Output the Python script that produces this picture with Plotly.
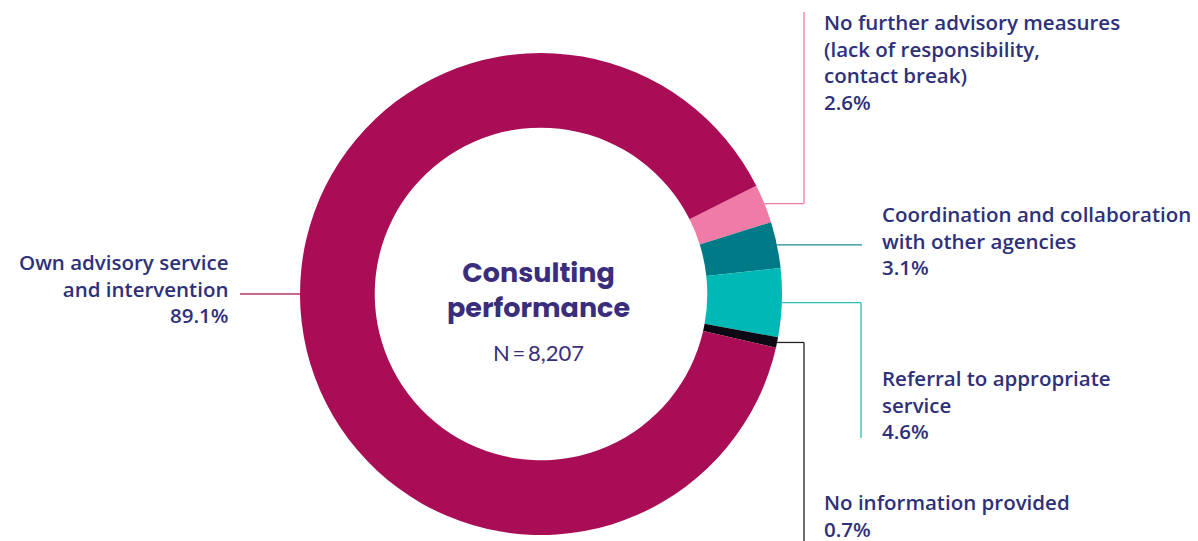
import math
import plotly.graph_objects as go

# ---- data ----
labels = [
    "No further advisory measures<br>(lack of responsibility,<br>contact break)",
    "Coordination and collaboration<br>with other agencies",
    "Referral to appropriate<br>service",
    "No information provided",
    "Own advisory service<br>and intervention",
]
values = [2.6, 3.1, 4.6, 0.7, 89.1]
colors = ["#F07BA7", "#007A86", "#00B8B5", "#0B0A14", "#A80D55"]
center_title = "Consulting<br>performance"
center_n = "N\u2009=\u20098,207"

# ---- layout geometry (page pixels) ----
W, H = 1198, 541
OFF = 8  # page body margin
CX, CY, R = 541, 294, 241
HOLE = 0.69
ROT = 63.3
TXT = "#2E3079"


def px(x):
    return (x - OFF) / W


def py(y):
    return 1 - (y - OFF) / H


fig = go.Figure(go.Pie(
    labels=[l.replace("<br>", " ") for l in labels],
    values=values,
    marker=dict(colors=colors, line=dict(width=0)),
    hole=HOLE,
    sort=False,
    direction="clockwise",
    rotation=ROT,
    textinfo="none",
    hoverinfo="label+percent",
    showlegend=False,
    domain=dict(x=[px(CX - R), px(CX + R)], y=[py(CY + R), py(CY - R)]),
))

# mid angles of slices (degrees clockwise from 12 o'clock)
tot = sum(values)
mids = []
acc = ROT
for v in values:
    a = v / tot * 360
    mids.append(acc + a / 2)
    acc += a


def ring_pt(deg):
    r = math.radians(deg)
    return CX + R * math.sin(r), CY - R * math.cos(r)


shapes = []


def seg(x0, y0, x1, y1, color):
    shapes.append(dict(type="line", xref="paper", yref="paper",
                       x0=px(x0), y0=py(y0), x1=px(x1), y1=py(y1),
                       line=dict(color=color, width=1.3)))


line_cols = ["#F07BA7", "#1A8C95", "#2BBDB9", "#222222", "#B5356F"]
# pink: right then up
x0, y0 = ring_pt(mids[0])
seg(x0, y0, 804, y0, line_cols[0]); seg(804, y0, 804, 12, line_cols[0])
# dark teal: right
x0, y0 = ring_pt(mids[1])
seg(x0, y0, 862, y0, line_cols[1])
# cyan: right then down
x0, y0 = ring_pt(mids[2])
seg(x0, y0, 861, y0, line_cols[2]); seg(861, y0, 861, 438, line_cols[2])
# black: right then down
x0, y0 = ring_pt(mids[3])
seg(x0, y0, 804, y0, line_cols[3]); seg(804, y0, 804, 545, line_cols[3])
# magenta: left at 9 o'clock
x0, y0 = ring_pt(270)
seg(x0, y0, 240, y0, line_cols[4])

lab_font = dict(family="Open Sans", size=20.5, color=TXT, weight=600)
ann = []


def label(text, x, y, anchor="left", align="left"):
    ann.append(dict(text=text, xref="paper", yref="paper", x=px(x), y=py(y),
                    xanchor=anchor, yanchor="top", align=align, showarrow=False,
                    font=lab_font))


def pct(v):
    return f"{v:.1f}%"


label(labels[0] + "<br>" + pct(values[0]), 822, 6)
label(labels[1] + "<br>" + pct(values[1]), 880, 198)
label(labels[2] + "<br>" + pct(values[2]), 880, 362)
label(labels[3] + "<br>" + pct(values[3]), 822, 486)
label(labels[4] + "<br>" + pct(values[4]), 230, 246, anchor="right", align="right")

ann.append(dict(text="<b>" + center_title + "</b>", xref="paper", yref="paper",
                x=px(CX - 3), y=py(290), xanchor="center", yanchor="middle",
                showarrow=False, font=dict(family="Poppins, Montserrat, Inter, sans-serif", size=27,
                                           color="#3A2D7B", weight=800)))
ann.append(dict(text=center_n, xref="paper", yref="paper",
                x=px(CX - 3), y=py(352), xanchor="center", yanchor="middle",
                showarrow=False, font=dict(family="Lato", size=22, color="#3A2D7B")))

fig.update_layout(
    width=W, height=H,
    margin=dict(l=0, r=0, t=0, b=0),
    paper_bgcolor="white", plot_bgcolor="white",
    shapes=shapes, annotations=ann,
)

fig.write_html("out.html")
